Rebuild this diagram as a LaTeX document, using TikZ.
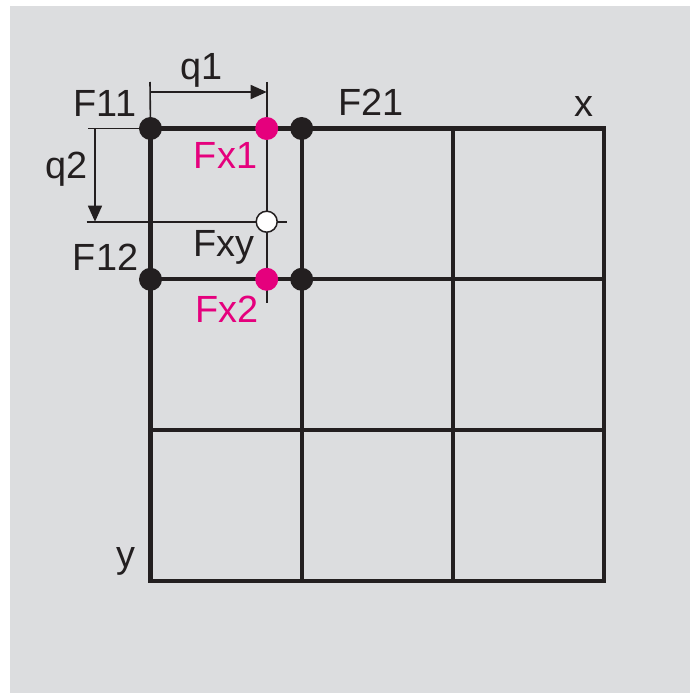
\documentclass[tikz,border=0pt]{standalone}
\usepackage{fontspec}
\setmainfont{Liberation Sans}
\usetikzlibrary{arrows.meta}
\definecolor{bg}{HTML}{DCDDDF}
\definecolor{ink}{HTML}{231F20}
\definecolor{mag}{HTML}{E5007D}
\begin{document}
\begin{tikzpicture}[x=1bp,y=-1bp,
  gridline/.style={line width=4.3bp, draw=ink},
  thinline/.style={line width=1.6bp, draw=ink},
  dot/.style={circle, fill=ink, minimum size=23bp, inner sep=0pt},
  mdot/.style={circle, fill=mag, minimum size=23bp, inner sep=0pt},
  odot/.style={circle, fill=white, draw=ink, line width=1.5bp, minimum size=21bp, inner sep=0pt},
  lbl/.style={inner sep=0pt, anchor=base, text=ink, font=\fontsize{38}{42}\selectfont},
  mlbl/.style={lbl, text=mag},
  arr/.style={-{Triangle[length=16bp,width=14bp]}}
]
\useasboundingbox (0,0) rectangle (690,693);
\fill[white] (0,0) rectangle (690,693);
\fill[bg] (10,6) rectangle (690,693);

% grid
\draw[gridline] (150.5,128.5) rectangle (604,581);
\draw[gridline] (301.7,128.5) -- (301.7,581);
\draw[gridline] (452.8,128.5) -- (452.8,581);
\draw[gridline] (150.5,279.3) -- (604,279.3);
\draw[gridline] (150.5,430.2) -- (604,430.2);

% reference coordinates
\coordinate (c11) at (150.5,128.5);
\coordinate (cx1) at (266.7,128.5);
\coordinate (c21) at (301.7,128.5);
\coordinate (c12) at (150.5,279.3);
\coordinate (cx2) at (266.7,279.3);
\coordinate (c22) at (301.7,279.3);
\coordinate (cxy) at (266.7,221.7);

% dimension lines
\coordinate (q1top) at (150,82);
\coordinate (q1a) at (150,92);
\coordinate (q1b) at (266.7,92);
\coordinate (vtop) at (266.7,82);
\coordinate (vbot) at (266.7,303);
\coordinate (q2l) at (88,128.5);
\coordinate (q2a) at (95,128.5);
\coordinate (q2b) at (95,221.7);
\coordinate (hl) at (86.7,221.7);
\coordinate (hr) at (286.7,221.7);

\draw[thinline] (q1top) -- (c11);
\draw[thinline] (vtop) -- (vbot);
\draw[thinline, arr] (q1a) -- (q1b);
\draw[thinline] (q2l) -- (c11);
\draw[thinline, arr] (q2a) -- (q2b);
\draw[thinline] (hl) -- (hr);

% dots
\node[dot] (F11) at (c11) {};
\node[mdot] (Fx1) at (cx1) {};
\node[dot] (F21) at (c21) {};
\node[dot] (F12) at (c12) {};
\node[mdot] (Fx2) at (cx2) {};
\node[dot] (F22) at (c22) {};
\node[odot] (Fxy) at (cxy) {};

% labels
\node[lbl] (lq1) at (201.5,80) {q1};
\node[lbl, anchor=base east] (lq2) at (88,178) {q2};
\node[lbl] (lF11) at (105,116.7) {F11};
\node[lbl] (lF21) at (371,116) {F21};
\node[lbl] (lx) at (584,116.7) {x};
\node[lbl] (ly) at (126,567) {y};
\node[lbl] (lF12) at (105.5,270) {F12};
\node[lbl] (lFxy) at (224,256.7) {Fxy};
\node[mlbl] (lFx1) at (225.5,168.3) {Fx1};
\node[mlbl] (lFx2) at (227,322) {Fx2};
\end{tikzpicture}
\end{document}
